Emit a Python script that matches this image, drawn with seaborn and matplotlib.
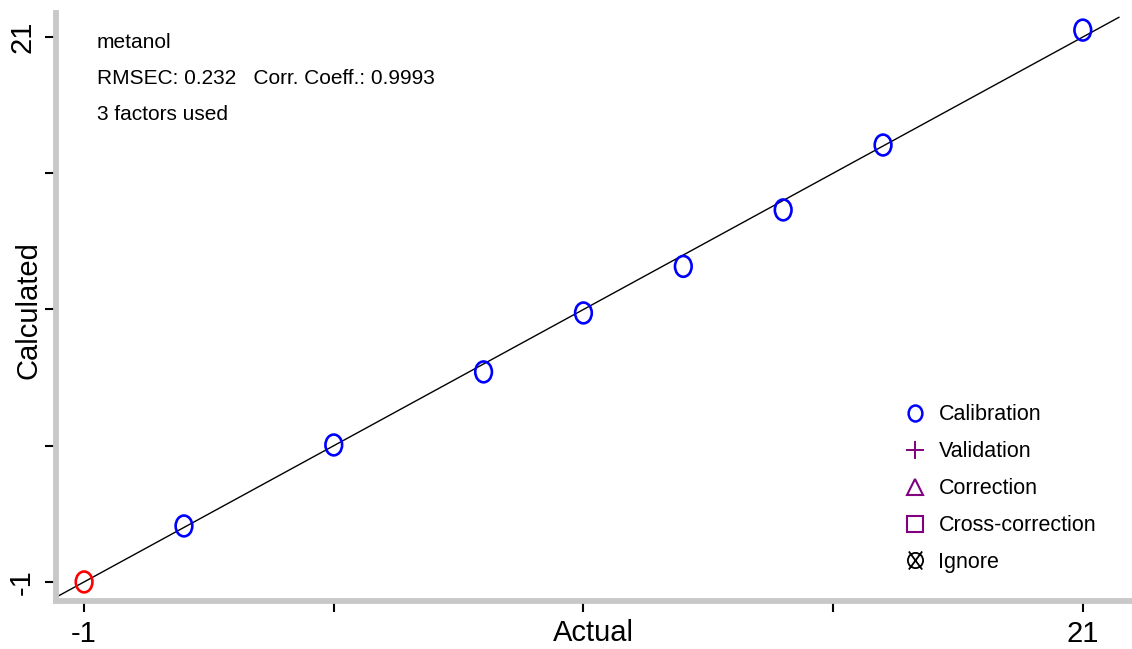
import numpy as np
import pandas as pd
import matplotlib
matplotlib.use("Agg")
import matplotlib.pyplot as plt
from matplotlib.path import Path
from matplotlib.lines import Line2D
import seaborn as sns

# ---- data ----
actual = [1.2, 4.5, 7.8, 10.0, 12.2, 14.4, 16.6, 21.0]
calculated = [1.26, 4.53, 7.48, 9.86, 11.74, 14.02, 16.64, 21.28]
selected_actual = [-1.0]
selected_calc = [-1.0]
fit_x = [-1.6, 21.8]
fit_y = [-1.6, 21.8]
ticks = [-1, 4.5, 10, 15.5, 21]
tick_labels = ["-1", "", "", "", "21"]
legend_labels = ["Calibration", "Validation", "Correction", "Cross-correction", "Ignore"]
info_lines = ["metanol", "RMSEC: 0.232   Corr. Coeff.: 0.9993", "3 factors used"]

sns.set_theme(style="white")
plt.rcParams["font.family"] = ["Liberation Sans", "DejaVu Sans"]
plt.rcParams["text.color"] = "black"

fig = plt.figure(figsize=(11.32, 6.49), dpi=100)
ax = fig.add_axes([55.5 / 1132, 1 - 601 / 649, (1130 - 55.5) / 1132, (601 - 13) / 649])

# elliptical marker (taller than wide)
circ = Path.unit_circle()
ell = Path(circ.vertices * np.array([0.8, 1.0]), circ.codes)
ell_leg = Path(circ.vertices * np.array([0.86, 1.0]), circ.codes)
# circle with a cross for "Ignore"
d = 0.95
ign = Path.make_compound_path(
    Path(circ.vertices * np.array([0.8, 0.8]), circ.codes),
    Path([(-0.7, -d), (0.7, d)], [Path.MOVETO, Path.LINETO]),
    Path([(-0.7, d), (0.7, -d)], [Path.MOVETO, Path.LINETO]),
)

df = pd.DataFrame({"Actual": actual, "Calculated": calculated})
sel = pd.DataFrame({"Actual": selected_actual, "Calculated": selected_calc})
line = pd.DataFrame({"x": fit_x, "y": fit_y})

sns.lineplot(data=line, x="x", y="y", ax=ax, color="black", linewidth=1.0, zorder=2)
sns.scatterplot(data=df, x="Actual", y="Calculated", ax=ax, marker=ell, s=225,
                facecolors="none", edgecolor="#0000ff", linewidth=1.9, zorder=3)
sns.scatterplot(data=sel, x="Actual", y="Calculated", ax=ax, marker=ell, s=225,
                facecolors="none", edgecolor="#ff0000", linewidth=1.9, zorder=3)

ax.set_xlim(-1.63, 22.04)
ax.set_ylim(-1.77, 21.97)

for s in ["top", "right"]:
    ax.spines[s].set_visible(False)
for s in ["left", "bottom"]:
    ax.spines[s].set_color("#c8c8c8")
    ax.spines[s].set_linewidth(4.2)

ax.set_xticks(ticks)
ax.set_xticklabels(tick_labels, fontsize=21, color="black")
ax.set_yticks(ticks)
ax.set_yticklabels(tick_labels, fontsize=21, rotation=90, va="center", color="black")
ax.tick_params(axis="both", direction="out", length=8, width=1.5, color="black",
               bottom=True, left=True, pad=6)

ax.set_xlabel("")
ax.set_ylabel("")
fig.text(593 / 1132, 1 - 633 / 649, "Actual", fontsize=21, ha="center", va="center",
         color="black")
fig.text(28 / 1132, 1 - 310 / 649, "Calculated", fontsize=21, ha="center", va="center",
         rotation=90, color="black")

for i, t in enumerate(info_lines):
    fig.text(97 / 1132, 1 - (43 + i * 36) / 649, t, fontsize=15, va="center",
             color="black")

purple = "#800080"
handles = [
    Line2D([], [], ls="none", marker=ell_leg, markersize=11.5, markerfacecolor="none",
           markeredgecolor="#0000ff", markeredgewidth=1.8),
    Line2D([], [], ls="none", marker="+", markersize=13, color=purple, markeredgewidth=1.4),
    Line2D([], [], ls="none", marker="^", markersize=11, markerfacecolor="none",
           markeredgecolor=purple, markeredgewidth=1.5),
    Line2D([], [], ls="none", marker="s", markersize=11, markerfacecolor="none",
           markeredgecolor=purple, markeredgewidth=1.5),
    Line2D([], [], ls="none", marker=ign, markersize=13, markerfacecolor="none",
           markeredgecolor="black", markeredgewidth=1.3),
]
leg = ax.legend(handles, legend_labels, loc="lower left",
                bbox_to_anchor=((904 - 55.5) / 1074.5, (601 - 573) / 588),
                frameon=False, fontsize=15.5, handlelength=1.0, handletextpad=0.6,
                labelspacing=0.74, borderaxespad=0.0, borderpad=0.0)

fig.savefig("out.png", dpi=100)
